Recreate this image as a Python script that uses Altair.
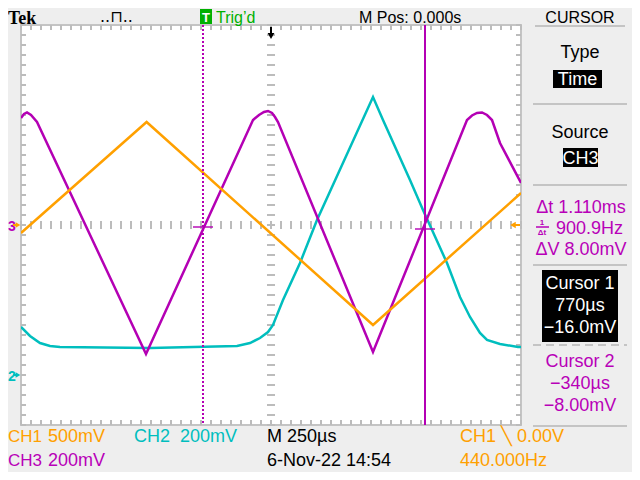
import altair as alt
import numpy as np
import pandas as pd

# ---------------- data read from the screen ----------------
# time in microseconds (250 us/div, 10 divisions), voltages in mV
X_DOMAIN = [-1250, 1250]
Y_DOMAIN = [-4, 4]          # vertical divisions

# CH1 (orange) 500 mV/div, ground at centre
ch1_t = [-1250, -622, 510, 1250]
ch1_mv = [-80, 1030, -1000, 320]

# CH2 (cyan) 200 mV/div, ground 3 div below centre
ch2_t = [-1250, -1205, -1155, -1105, -1055, -605, -170, -105, -55, -15, 10, 60,
         145, 230, 510, 560, 695, 760, 880, 945, 995, 1045, 1080, 1145, 1235, 1250]
ch2_mv = [192, 156, 128, 116, 112, 108, 116, 128, 148, 172, 200, 300,
          448, 620, 1112, 1020, 780, 660, 448, 312, 232, 168, 140, 124, 112, 112]

# CH3 (magenta) 200 mV/div, ground at centre
ch3_t = [-1250, -1235, -1220, -1200, -1170, -625, -90, -60, -35, -15, 5, 20, 35,
         510, 980, 1005, 1030, 1055, 1080, 1105, 1145, 1250]
ch3_mv = [428, 444, 450, 440, 412, -516, 420, 440, 452, 456, 448, 432, 412,
          -508, 420, 438, 448, 450, 440, 420, 328, 168]

channels = [
    ("CH2", ch2_t, ch2_mv, 200, -3),
    ("CH3", ch3_t, ch3_mv, 200, 0),
    ("CH1", ch1_t, ch1_mv, 500, 0),
]

cursor_t = [-340, 770]
cursor_mv = [-8, -16]
cursor_name = ["Cursor 2", "Cursor 1"]

ORANGE = "#ffa000"
CYAN = "#00bebe"
MAGENTA = "#b400b4"
MAG_TXT = "#b800b8"
GREEN = "#00b000"
GRID = "#bcbcbc"
FONT = "Liberation Sans, Arial, sans-serif"

rows = []
for name, ts, mvs, scale, off in channels:
    for i, (t, mv) in enumerate(zip(ts, mvs)):
        rows.append({"ch": name, "i": i, "t": t, "div": mv / scale + off})
wave = pd.DataFrame(rows)

cur = pd.DataFrame({"t": cursor_t, "div": [v / 200 for v in cursor_mv], "name": cursor_name})

# graticule minor ticks (every 0.2 division)
xt = np.arange(-1250, 1251, 50)
yt = np.round(np.arange(-4, 4.001, 0.2), 2)
tick_rows = []
for t in xt:
    tick_rows.append({"x": t, "x2": t, "y": -0.08, "y2": 0.08})
    tick_rows.append({"x": t, "x2": t, "y": 4, "y2": 3.9})
    tick_rows.append({"x": t, "x2": t, "y": -4, "y2": -3.9})
for v in yt:
    tick_rows.append({"x": -20, "x2": 20, "y": v, "y2": v})
    tick_rows.append({"x": -1250, "x2": -1225, "y": v, "y2": v})
    tick_rows.append({"x": 1225, "x2": 1250, "y": v, "y2": v})
ticks = pd.DataFrame(tick_rows)

xscale = alt.Scale(domain=X_DOMAIN, nice=False, zero=False)
yscale = alt.Scale(domain=Y_DOMAIN, nice=False, zero=False)

xaxis = alt.Axis(values=list(range(-1000, 1001, 250)), grid=True, labels=False, ticks=False,
                 domain=False, title=None, gridDash=[2, 8], gridColor=GRID, gridWidth=2)
yaxis = alt.Axis(values=[-3, -2, -1, 0, 1, 2, 3], grid=True, labels=False, ticks=False,
                 domain=False, title=None, gridDash=[2, 8], gridColor=GRID, gridWidth=2)

tick_layer = alt.Chart(ticks).mark_rule(color=GRID, strokeWidth=2).encode(
    x=alt.X("x:Q", scale=xscale, axis=xaxis),
    x2="x2:Q",
    y=alt.Y("y:Q", scale=yscale, axis=yaxis),
    y2="y2:Q",
)

waves = alt.Chart(wave).mark_line(strokeWidth=2.5, clip=True).encode(
    x=alt.X("t:Q", scale=xscale, axis=None),
    y=alt.Y("div:Q", scale=yscale, axis=None),
    color=alt.Color("ch:N", scale=alt.Scale(domain=["CH1", "CH2", "CH3"],
                                            range=[ORANGE, CYAN, MAGENTA]), legend=None),
    order="i:Q",
)

cur2 = alt.Chart(cur[cur.name == "Cursor 2"]).mark_rule(color=MAGENTA, strokeWidth=2,
                                                        strokeDash=[2, 2]).encode(
    x=alt.X("t:Q", scale=xscale, axis=None))
cur1 = alt.Chart(cur[cur.name == "Cursor 1"]).mark_rule(color=MAGENTA, strokeWidth=2).encode(
    x=alt.X("t:Q", scale=xscale, axis=None))
cross = alt.Chart(cur).mark_tick(color=MAGENTA, orient="horizontal", size=20, thickness=2).encode(
    x=alt.X("t:Q", scale=xscale, axis=None),
    y=alt.Y("div:Q", scale=yscale, axis=None))

ONE = alt.Data(values=[{}])


def label(text, x, y, color="black", size=18, align="left", weight="normal", font=FONT):
    return alt.Chart(ONE).mark_text(text=text, align=align, baseline="alphabetic",
                                    fontSize=size, fontWeight=weight, font=font,
                                    color=color).encode(x=alt.value(x), y=alt.value(y))


def box(x, x2, y, y2, color):
    return alt.Chart(ONE).mark_rect(color=color).encode(
        x=alt.value(x), x2=alt.value(x2), y=alt.value(y), y2=alt.value(y2))


def hline(x, x2, y, color="#c4c4c4", width=2, dash=None):
    kw = {"color": color, "strokeWidth": width}
    if dash:
        kw["strokeDash"] = dash
    return alt.Chart(ONE).mark_rule(**kw).encode(
        x=alt.value(x), x2=alt.value(x2), y=alt.value(y))


def marker(shape, x, y, color, size):
    return alt.Chart(ONE).mark_point(shape=shape, filled=True, opacity=1, size=size,
                                     color=color).encode(x=alt.value(x), y=alt.value(y))


def stem(x, x2, y, y2, color, width=2):
    return alt.Chart(ONE).mark_rule(color=color, strokeWidth=width).encode(
        x=alt.value(x), x2=alt.value(x2), y=alt.value(y), y2=alt.value(y2))


deco = [
    # top status line
    label("Tek", -13, -1, "black", 18, weight="bold", font="Liberation Serif"),
    label("..⊓..", 79, -3, "black", 16, font="DejaVu Sans"),
    box(179, 191, -16, -1, GREEN),
    label("T", 185, -3, "white", 13, align="center", weight="bold"),
    label("Trig’d", 195, -2, GREEN, 16),
    label("M Pos: 0.000s", 338, -2, "black", 16),
    label("CURSOR", 559, -2, "black", 16, align="center"),
    # right menu
    hline(514, 604, 1),
    label("Type", 559, 33, "black", 18, align="center"),
    box(532, 581, 45, 63, "black"),
    label("Time", 556.5, 60, "white", 18, align="center"),
    hline(512, 606, 79),
    label("Source", 559, 113, "black", 18, align="center"),
    box(542, 577, 123, 142, "black"),
    label("CH3", 559.5, 139, "white", 18, align="center"),
    hline(512, 606, 160),
    label("Δt 1.110ms", 560, 188, MAG_TXT, 18, align="center"),
    label("1", 521, 200, MAG_TXT, 8, align="center", weight="bold"),
    stem(515, 528, 202, 202, MAG_TXT, 1.5),
    label("Δt", 521, 210, MAG_TXT, 8, align="center", weight="bold"),
    label("900.9Hz", 535, 209, MAG_TXT, 18),
    label("ΔV 8.00mV", 560, 230, MAG_TXT, 18, align="center"),
    hline(512, 606, 240),
    box(521, 597, 245, 317, "black"),
    label("Cursor 1", 559, 264, "white", 18, align="center"),
    label("770µs", 559, 286, "white", 18, align="center"),
    label("−16.0mV", 559, 308, "white", 18, align="center"),
    hline(512, 606, 320, dash=[8, 5]),
    label("Cursor 2", 559, 342, MAG_TXT, 18, align="center"),
    label("−340µs", 559, 364, MAG_TXT, 18, align="center"),
    label("−8.00mV", 559, 386, MAG_TXT, 18, align="center"),
    hline(512, 606, 401),
    # bottom status lines
    label("CH1", -13, 417, ORANGE, 17),
    label("500mV", 27, 417, ORANGE, 18),
    label("CH2", 113, 417, CYAN, 18),
    label("200mV", 159, 417, CYAN, 18),
    label("M 250µs", 246, 417, "black", 18),
    label("CH1 ╲ 0.00V", 439, 417, ORANGE, 18),
    label("CH3", -13, 441, MAG_TXT, 17),
    label("200mV", 27, 441, MAG_TXT, 18),
    label("6-Nov-22 14:54", 246, 441, "black", 18),
    label("440.000Hz", 439, 441, ORANGE, 18),
    # ground / trigger markers
    label("3", -13, 206, MAG_TXT, 14, weight="bold"),
    stem(-8, -3, 200, 200, ORANGE),
    marker("triangle-right", -3, 200, ORANGE, 30),
    label("2", -13, 356, CYAN, 14, weight="bold"),
    stem(-8, -3, 350, 350, CYAN),
    marker("triangle-right", -3, 350, CYAN, 30),
    stem(492, 499, 200, 200, ORANGE),
    marker("triangle-left", 492, 200, ORANGE, 40),
    stem(250, 250, 2, 12, "black"),
    marker("triangle-down", 250, 11, "black", 45),
]

chart = alt.layer(tick_layer, waves, cur2, cur1, cross, *deco).properties(
    width=500, height=400,
    autosize=alt.AutoSizeParams(type="none"),
    padding={"left": 13, "top": 17, "right": 111, "bottom": 47},
    background="#eeeeee",
).configure_view(stroke="#c4c4c4", strokeWidth=2, fill="white")

chart.save("out.html", embed_options={"renderer": "svg", "actions": False})
